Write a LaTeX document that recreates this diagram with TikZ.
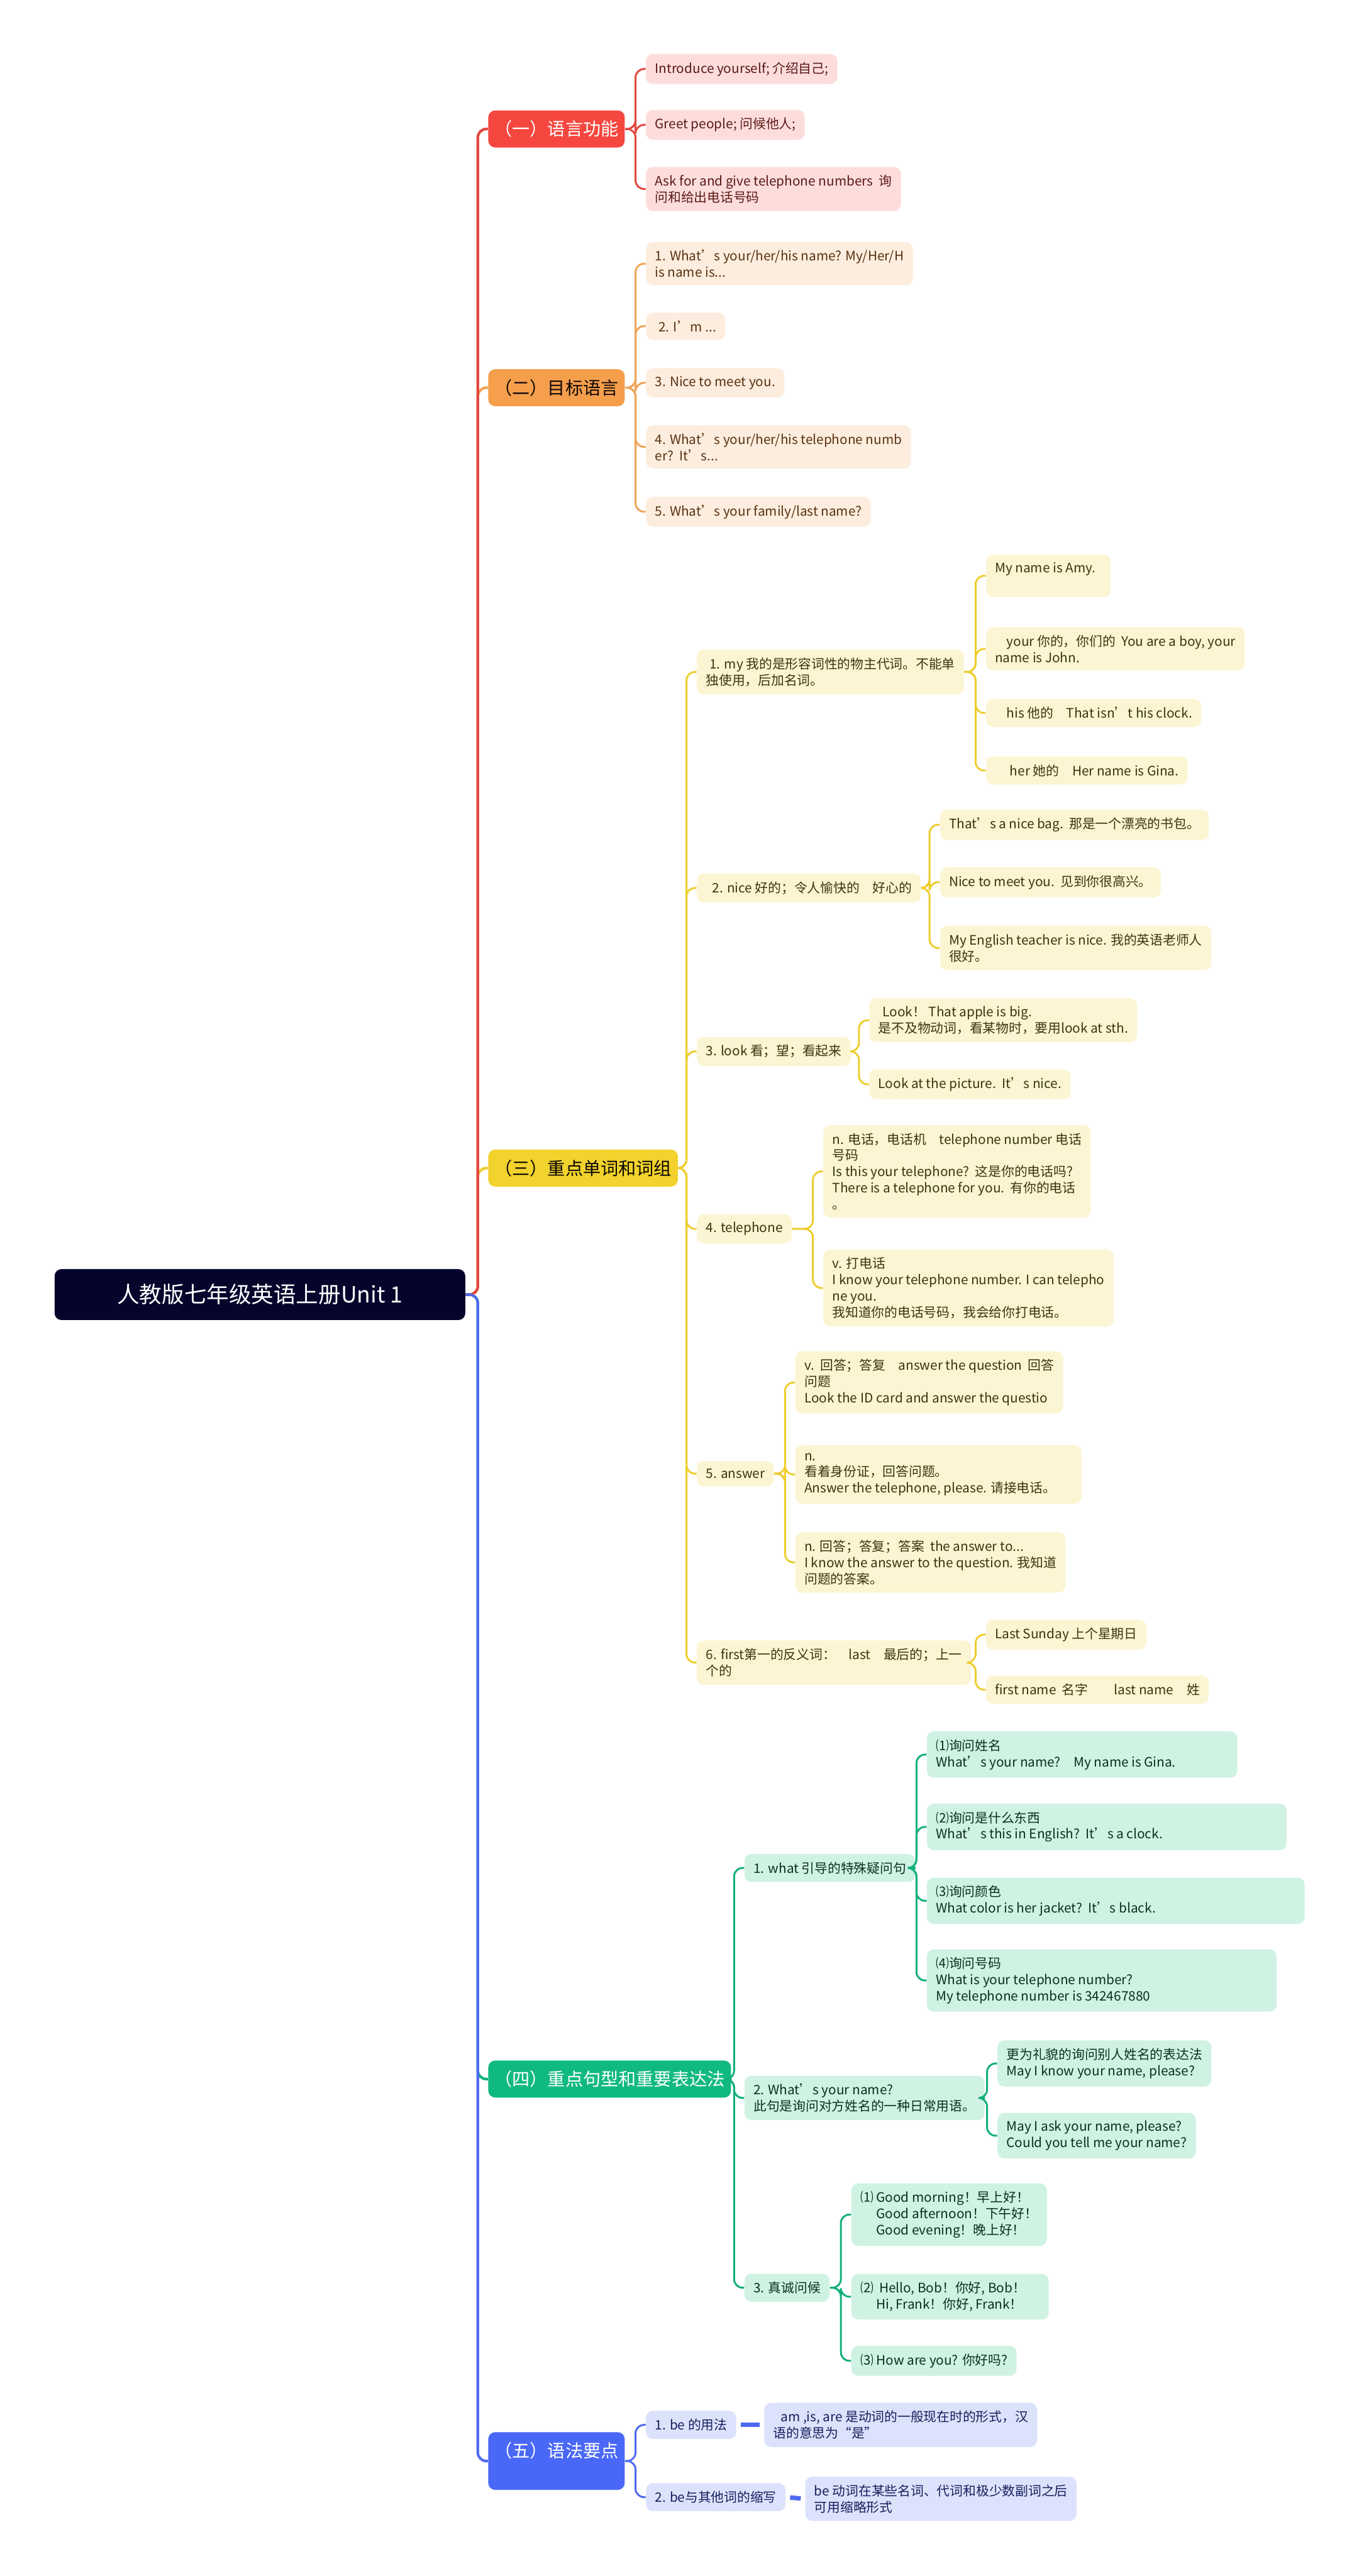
\documentclass[tikz,border=0pt]{standalone}
\usepackage{fontspec}
\setmainfont{Noto Sans CJK SC}
\usetikzlibrary{positioning}

\definecolor{rootbg}{HTML}{05052C}
\definecolor{redbg}{HTML}{F5473F}
\definecolor{redln}{HTML}{E2483F}
\definecolor{redlf}{HTML}{FDDDDC}
\definecolor{redtx}{HTML}{5A1A16}
\definecolor{orgbg}{HTML}{F59E4C}
\definecolor{orgln}{HTML}{EFA458}
\definecolor{orglf}{HTML}{FDEDDE}
\definecolor{orgtx}{HTML}{5A3212}
\definecolor{ylwbg}{HTML}{F2D22C}
\definecolor{ylwln}{HTML}{EECD2E}
\definecolor{ylwlf}{HTML}{FCF5D3}
\definecolor{ylwtx}{HTML}{3A360E}
\definecolor{grnbg}{HTML}{10B981}
\definecolor{grnln}{HTML}{13AF7E}
\definecolor{grnlf}{HTML}{CFF2E3}
\definecolor{grntx}{HTML}{0E3022}
\definecolor{blubg}{HTML}{4A68F7}
\definecolor{bluln}{HTML}{4E6AEE}
\definecolor{blulf}{HTML}{DDE2FC}
\definecolor{blutx}{HTML}{14205C}

\newcommand\leaffont{\fontsize{7}{8.7}\selectfont}
\newcommand\topicfont{\fontsize{9.5}{12}\selectfont}
\newcommand\rootfont{\fontsize{12}{14}\selectfont}

\tikzset{
    box/.style = {anchor=west, rounded corners=1.3mm},
    leaf/.style = {box, font=\leaffont, align=flush left, inner xsep=1.7mm, inner ysep=1.5mm},
    topic/.style = {box, font=\topicfont, align=center, inner ysep=1.9mm},
}
\tikzset{
    br/.style = {draw, line width=1pt, rounded corners=1.6mm, to path={(\tikztostart) -| ([xshift=-1.9mm]\tikztotarget) -- (\tikztotarget)\tikztonodes}},
    trunk/.style = {br, line width=1.4pt},
    stub/.style = {draw, line width=2.4pt, shorten <=0.8mm, shorten >=0.8mm},
    l1/.style = {leaf, fill=redlf, text=redtx},
    l2/.style = {leaf, fill=orglf, text=orgtx},
    l3/.style = {leaf, fill=ylwlf, text=ylwtx},
    l4/.style = {leaf, fill=grnlf, text=grntx},
    l5/.style = {leaf, fill=blulf, text=blutx},
}

\begin{document}
\begin{tikzpicture}[x=0.3096mm, y=-0.3096mm]
        \fill[white] (0,0) rectangle (827,1568);
        \useasboundingbox (0,0) rectangle (827,1568);

        \node[box, fill=rootbg, text=white, font=\rootfont, minimum width=77.4mm, minimum height=9.6mm] (root) at (33,788) {人教版七年级英语上册Unit 1};

        \node[topic, fill=redbg, text=white, minimum width=25.7mm] (s1) at (297,78.5) {（一）语言功能};
        \node[topic, fill=orgbg, text=black!85!orgtx, minimum width=25.7mm] (s2) at (297,236) {（二）目标语言};
        \node[topic, fill=ylwbg, text=black!85!ylwtx, minimum width=35mm] (s3) at (297,711) {（三）重点单词和词组};
        \node[topic, fill=grnbg, text=white, minimum width=44.3mm] (s4) at (297,1265.5) {（四）重点句型和重要表达法};
        \node[topic, fill=blubg, text=white, minimum width=25.7mm] (s5) at (297,1498) {（五）语法要点\\\mbox{}};

        % (一)
        \node[l1] (a1) at (393,42) {Introduce yourself; 介绍自己;};
        \node[l1] (a2) at (393,76) {Greet people; 问候他人;};
        \node[l1] (a3) at (393,115) {Ask for and give telephone numbers\ \ 询\\问和给出电话号码};

        % (二)
        \node[l2] (b1) at (393,160.5) {1. What’s your/her/his name? My/Her/H\\is name is...};
        \node[l2] (b2) at (393,198.5) {\hspace*{0.7mm}2. I’m ...};
        \node[l2] (b3) at (393,233) {3. Nice to meet you.};
        \node[l2] (b4) at (393,272) {4. What’s your/her/his telephone numb\\er?\ \ It’s...};
        \node[l2] (b5) at (393,311.5) {5. What’s your family/last name?};

        % (三)
        \node[l3] (c1) at (424,409) {\hspace*{0.7mm}1. my 我的是形容词性的物主代词。不能单\\独使用，后加名词。};
        \node[l3, text width=20.1mm] (c11) at (600,350.5) {My name is Amy.\\\mbox{}};
        \node[l3] (c12) at (600,395) {\hspace*{2.2mm}your 你的，你们的\ \ You are a boy, your\\name is John.};
        \node[l3] (c13) at (600,434) {\hspace*{2.2mm}his 他的　That isn’t his clock.};
        \node[l3] (c14) at (600,469) {\hspace*{2.8mm}her 她的　Her name is Gina.};

        \node[l3] (c2) at (424,540.5) {\hspace*{1.2mm}2. nice 好的；令人愉快的　好心的};
        \node[l3] (c21) at (572,502) {That’s a nice bag.\ \ 那是一个漂亮的书包。};
        \node[l3] (c22) at (572,537) {Nice to meet you.\ \ 见到你很高兴。};
        \node[l3] (c23) at (572,577) {My English teacher is nice. 我的英语老师人\\很好。};

        \node[l3] (c3) at (424,640) {3. look 看；望；看起来};
        \node[l3] (c31) at (529,621) {\hspace*{0.8mm}Look！ That apple is big.\\是不及物动词，看某物时，要用look at sth.};
        \node[l3] (c32) at (529,660) {Look at the picture.\ \ It’s nice.};

        \node[l3] (c4) at (424,748) {4. telephone};
        \node[l3] (c41) at (501,713) {n. 电话，电话机　telephone number 电话\\号码\\Is this your telephone?\ \ 这是你的电话吗?\\There is a telephone for you.\ \ 有你的电话\\。};
        \node[l3] (c42) at (501,784) {v. 打电话\\I know your telephone number. I can telepho\\ne you.\\我知道你的电话号码，我会给你打电话。};

        \node[l3] (c5) at (424,897) {5. answer};
        \node[l3] (c51) at (484,841.5) {v.\ \ 回答；答复　answer the question\ \ 回答\\问题\\Look the ID card and answer the questio};
        \node[l3, text width=50.5mm] (c52) at (484,897.5) {n.\\看着身份证，回答问题。\\Answer the telephone, please. 请接电话。};
        \node[l3] (c53) at (484,951) {n. 回答；答复；答案\ \ the answer to...\\I know the answer to the question. 我知道\\问题的答案。};

        \node[l3] (c6) at (424,1012) {6. first第一的反义词：　last　最后的；上一\\个的};
        \node[l3] (c61) at (600,995) {Last Sunday 上个星期日};
        \node[l3] (c62) at (600,1028.5) {first name\ \ 名字　　last name　姓};

        % (四)
        \node[l4] (d1) at (453,1137) {1. what 引导的特殊疑问句};
        \node[l4, text width=55.1mm] (d11) at (564,1068) {⑴询问姓名\\What’s your name?　My name is Gina.};
        \node[l4, text width=64.4mm] (d12) at (564,1112) {⑵询问是什么东西\\What’s this in English?\ \ It’s a clock.};
        \node[l4, text width=67.8mm] (d13) at (564,1157) {⑶询问颜色\\What color is her jacket?\ \ It’s black.};
        \node[l4, text width=62.5mm] (d14) at (564,1205.5) {⑷询问号码\\What is your telephone number?\\My telephone number is 342467880};

        \node[l4] (d2) at (453,1277) {2. What’s your name?\\此句是询问对方姓名的一种日常用语。};
        \node[l4] (d21) at (607,1256) {更为礼貌的询问别人姓名的表达法\\May I know your name, please?};
        \node[l4] (d22) at (607,1300) {May I ask your name, please?\\Could you tell me your name?};

        \node[l4] (d3) at (453,1392.5) {3. 真诚问候};
        \node[l4] (d31) at (518,1348) {⑴ Good morning！早上好！\\\hspace*{3mm}Good afternoon！下午好！\\\hspace*{3mm}Good evening！晚上好！};
        \node[l4, text width=33.8mm] (d32) at (518,1398) {⑵\ \ Hello, Bob！你好, Bob！\\\hspace*{3mm}Hi, Frank！你好, Frank！};
        \node[l4] (d33) at (518,1437) {⑶ How are you? 你好吗?};

        % (五)
        \node[l5] (e1) at (393,1476) {1. be 的用法};
        \node[l5] (e11) at (465,1476) {\hspace*{1.4mm}am ,is, are 是动词的一般现在时的形式，汉\\语的意思为“是”};
        \node[l5] (e2) at (393,1520) {2. be与其他词的缩写};
        \node[l5] (e21) at (490,1521) {be 动词在某些名词、代词和极少数副词之后\\可用缩略形式};

        % trunk
        \draw[trunk, orgln] (root.east) to (s2.west);
        \draw[trunk, ylwln] (root.east) to (s3.west);
        \draw[trunk, grnln] (root.east) to (s4.west);
        \draw[trunk, redln] (root.east) to (s1.west);
        \draw[trunk, bluln] (root.east) to (s5.west);

        \draw[br, redln] (s1.east) to (a1.west);
        \draw[br, redln] (s1.east) to (a2.west);
        \draw[br, redln] (s1.east) to (a3.west);

        \draw[br, orgln] (s2.east) to (b1.west);
        \draw[br, orgln] (s2.east) to (b2.west);
        \draw[br, orgln] (s2.east) to (b3.west);
        \draw[br, orgln] (s2.east) to (b4.west);
        \draw[br, orgln] (s2.east) to (b5.west);

        \draw[br, ylwln] (s3.east) to (c1.west);
        \draw[br, ylwln] (s3.east) to (c2.west);
        \draw[br, ylwln] (s3.east) to (c3.west);
        \draw[br, ylwln] (s3.east) to (c4.west);
        \draw[br, ylwln] (s3.east) to (c5.west);
        \draw[br, ylwln] (s3.east) to (c6.west);
        \draw[br, ylwln] (c1.east) to (c11.west);
        \draw[br, ylwln] (c1.east) to (c12.west);
        \draw[br, ylwln] (c1.east) to (c13.west);
        \draw[br, ylwln] (c1.east) to (c14.west);
        \draw[br, ylwln] (c2.east) to (c21.west);
        \draw[br, ylwln] (c2.east) to (c22.west);
        \draw[br, ylwln] (c2.east) to (c23.west);
        \draw[br, ylwln] (c3.east) to (c31.west);
        \draw[br, ylwln] (c3.east) to (c32.west);
        \draw[br, ylwln] (c4.east) to (c41.west);
        \draw[br, ylwln] (c4.east) to (c42.west);
        \draw[br, ylwln] (c5.east) to (c51.west);
        \draw[br, ylwln] (c5.east) to (c52.west);
        \draw[br, ylwln] (c5.east) to (c53.west);
        \draw[br, ylwln] (c6.east) to (c61.west);
        \draw[br, ylwln] (c6.east) to (c62.west);

        \draw[br, grnln] (s4.east) to (d1.west);
        \draw[br, grnln] (s4.east) to (d2.west);
        \draw[br, grnln] (s4.east) to (d3.west);
        \draw[br, grnln] (d1.east) to (d11.west);
        \draw[br, grnln] (d1.east) to (d12.west);
        \draw[br, grnln] (d1.east) to (d13.west);
        \draw[br, grnln] (d1.east) to (d14.west);
        \draw[br, grnln] (d2.east) to (d21.west);
        \draw[br, grnln] (d2.east) to (d22.west);
        \draw[br, grnln] (d3.east) to (d31.west);
        \draw[br, grnln] (d3.east) to (d32.west);
        \draw[br, grnln] (d3.east) to (d33.west);

        \draw[br, bluln] (s5.east) to (e1.west);
        \draw[br, bluln] (s5.east) to (e2.west);
        \draw[stub, bluln] (e1.east) -- (e11.west);
        \draw[stub, bluln] (e2.east) -- (e21.west);
\end{tikzpicture}
\end{document}
